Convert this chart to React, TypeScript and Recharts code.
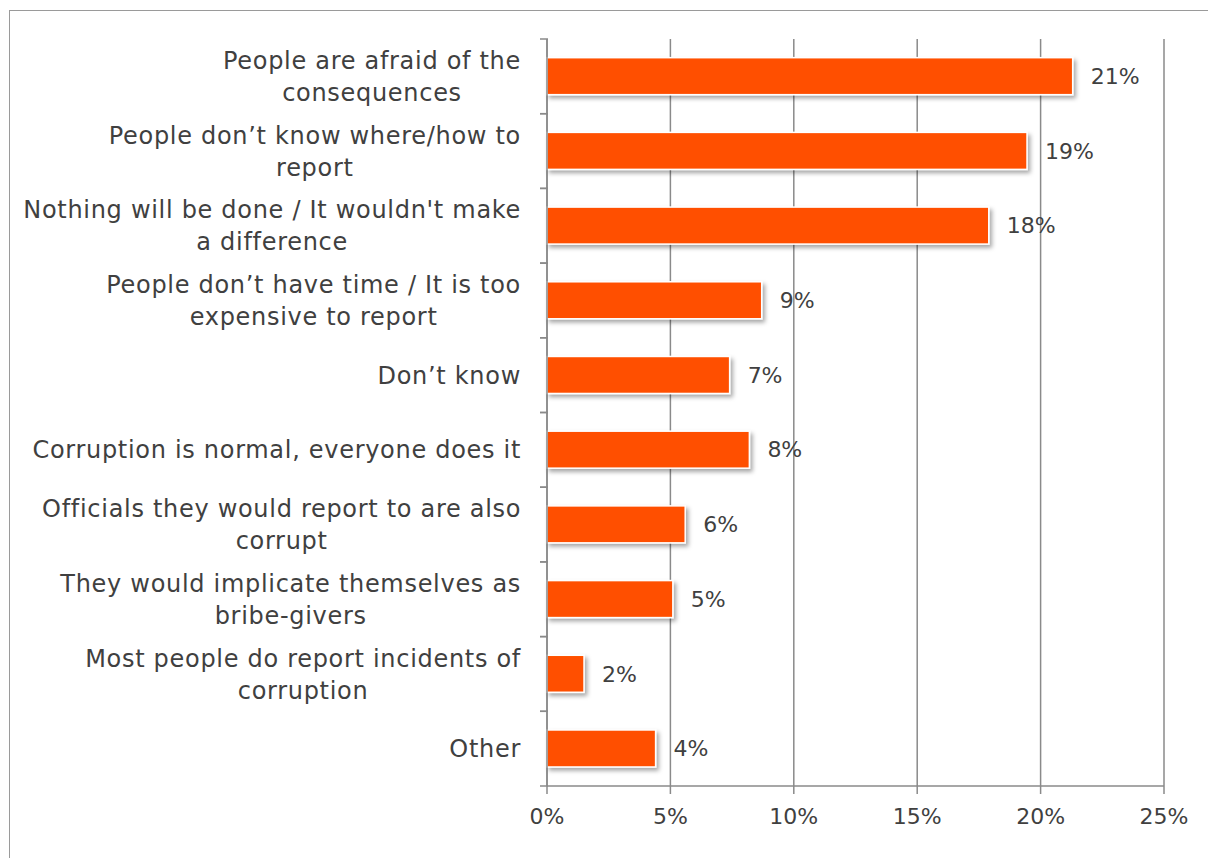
import React from 'react';
import { BarChart, Bar, XAxis, YAxis, CartesianGrid, LabelList } from 'recharts';

// reasons for not reporting corruption, top to bottom
const reasons = [
  'People are afraid of the\nconsequences',
  'People don\u2019t know where/how to\nreport',
  "Nothing will be done / It wouldn't make\na difference",
  'People don\u2019t have time / It is too\nexpensive to report',
  'Don\u2019t know',
  'Corruption is normal, everyone does it',
  'Officials they would report to are also\ncorrupt',
  'They would implicate themselves as\nbribe-givers',
  'Most people do report incidents of\ncorruption',
  'Other',
];
const shares = [21.3, 19.45, 17.9, 8.7, 7.4, 8.2, 5.6, 5.1, 1.5, 4.4];
const shareLabels = ['21%', '19%', '18%', '9%', '7%', '8%', '6%', '5%', '2%', '4%'];
const xTicks = [0, 5, 10, 15, 20, 25];

const data = reasons.map((r, i) => ({ reason: r, share: shares[i], label: shareLabels[i] }));

const FONT = '"DejaVu Sans", sans-serif';
const TEXT = '#404040';
const GRID = '#8a8a8a';
const BAR = '#FF5000';
const CAT_SIZE = 24;
const CAT_SPACING = 0.7;

let ctx: CanvasRenderingContext2D | null = null;
const measure = (s: string) => {
  if (!ctx) ctx = document.createElement('canvas').getContext('2d');
  if (!ctx) return s.length * 13;
  ctx.font = `${CAT_SIZE}px "DejaVu Sans"`;
  return ctx.measureText(s).width + s.length * CAT_SPACING;
};

const ReasonTick = (props: any) => {
  const { x, y, payload } = props;
  const lines: string[] = String(payload.value).split('\n');
  const half = payload.offset || 37;
  const lh = 32;
  const start = -((lines.length - 1) * lh) / 2;
  const right = x - 18;
  const blockW = Math.max(...lines.map(measure));
  const cx = right - blockW / 2;
  return (
    <g>
      <line x1={x + 1} x2={x + 9} y1={y - half} y2={y - half} stroke={GRID} strokeWidth={1.5} />
      <line x1={x + 1} x2={x + 9} y1={y + half} y2={y + half} stroke={GRID} strokeWidth={1.5} />
      <text textAnchor="middle" fill={TEXT} fontSize={CAT_SIZE} fontFamily={FONT} letterSpacing={CAT_SPACING}>
        {lines.map((l, i) => (
          <tspan key={i} x={cx} y={y + start + i * lh} dy="0.36em">
            {l}
          </tspan>
        ))}
      </text>
    </g>
  );
};

const ShadowBar = (props: any) => {
  const { x, y, width, height } = props;
  if (!width || width <= 0) return null;
  return (
    <rect x={x} y={y} width={width} height={height} fill={BAR} stroke="#ffffff" strokeWidth={1.5} filter="url(#barShadow)" />
  );
};

export default function App() {
  return (
    <div style={{ position: 'absolute', left: 0, top: 0, width: 1208, height: 858, overflow: 'hidden', background: '#fff' }}>
      <svg width={0} height={0} style={{ position: 'absolute' }}>
        <defs>
          <filter id="barShadow" x="-10%" y="-20%" width="130%" height="160%">
            <feDropShadow dx={2.5} dy={3} stdDeviation={2} floodColor="#000" floodOpacity={0.35} />
          </filter>
        </defs>
      </svg>
      <div
        style={{
          position: 'absolute',
          left: 9,
          top: 10,
          width: 1400,
          height: 1000,
          border: '1.5px solid #9a9a9a',
        }}
      />
      <div style={{ position: 'absolute', left: 0, top: 0 }}>
        <BarChart
          width={1208}
          height={858}
          data={data}
          layout="vertical"
          margin={{ top: 39, right: 44, bottom: 0, left: 0 }}
          barCategoryGap="25%"
        >
          <CartesianGrid horizontal={false} vertical stroke={GRID} strokeWidth={1.5} />
          <XAxis
            type="number"
            dataKey="share"
            domain={[0, 25]}
            ticks={xTicks}
            tickFormatter={(v: number) => `${v}%`}
            axisLine={{ stroke: GRID, strokeWidth: 1.5 }}
            tickLine={{ stroke: GRID, strokeWidth: 1.5 }}
            tickSize={8}
            tickMargin={14}
            height={72}
            tick={{ fill: TEXT, fontSize: 22, fontFamily: FONT }}
          />
          <YAxis
            type="category"
            dataKey="reason"
            width={547}
            axisLine={{ stroke: GRID, strokeWidth: 1.5 }}
            tickLine={false}
            tick={<ReasonTick />}
            interval={0}
          />
          <Bar dataKey="share" shape={<ShadowBar />} isAnimationActive={false}>
            <LabelList dataKey="label" position="right" offset={18} fill={TEXT} fontSize={22} fontFamily={FONT} />
          </Bar>
        </BarChart>
      </div>
    </div>
  );
}
